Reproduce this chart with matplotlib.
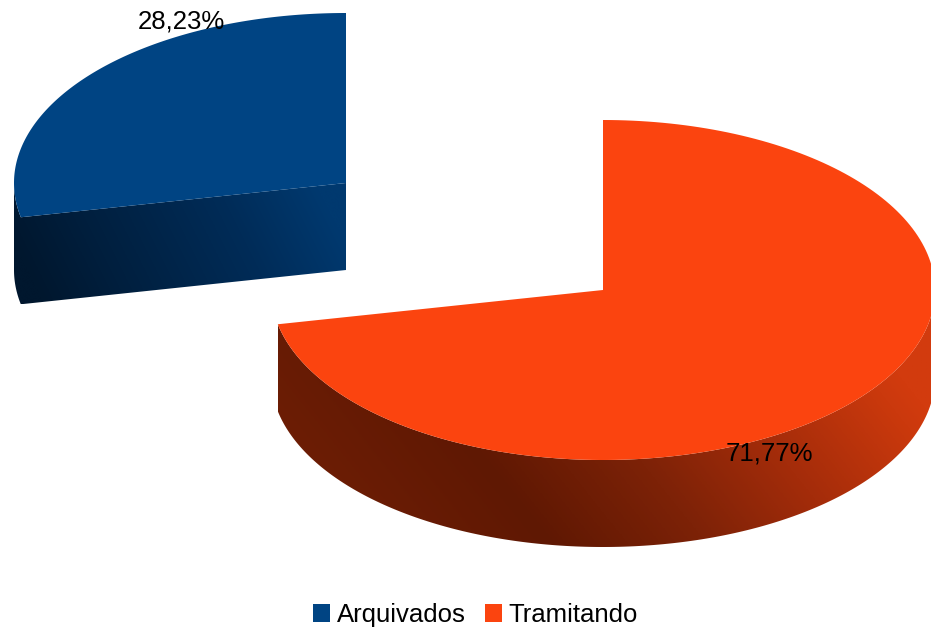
import numpy as np
import matplotlib
matplotlib.use('Agg')
import matplotlib.pyplot as plt
from matplotlib.colors import LinearSegmentedColormap
from matplotlib.patches import Patch, Polygon

plt.rcParams['font.family'] = ['Liberation Sans', 'DejaVu Sans']

categories = ['Arquivados', 'Tramitando']
values = [28.23, 71.77]
labels = ['28,23%', '71,77%']
colors = ['#004483', '#fb440f']

# layout of the two exploded slices, in pixels
centers = [(346, 183), (603, 290)]
rx, ry, depth = 332, 170, 87
label_pos = [(181, 22), (769, 453)]

# side shading, left to right, and how much it leans
side_colors = [
    [(0.0, '#00172e'), (0.25, '#001f3e'), (0.7, '#002c58'), (1.0, '#00396f')],
    [(0.0, '#6c1d05'), (0.26, '#5f1803'), (0.5, '#7d2207'), (0.72, '#a42c0a'), (0.95, '#cb390d'), (1.0, '#d23b0e')],
]
side_lean = [0.5, 0.8]


def arc(cx, cy, a0, a1):
    # angles clockwise from 12 o'clock, in degrees
    t = np.radians(np.linspace(a0, a1, 200))
    return np.column_stack([cx + rx * np.sin(t), cy - ry * np.cos(t)])


fig = plt.figure(figsize=(9.31, 6.31), dpi=100)
ax = fig.add_axes([0, 0, 1, 1])
ax.set_xlim(0, 931)
ax.set_ylim(631, 0)
ax.axis('off')

fracs = np.array(values) / sum(values)
# Tramitando starts at 12 o'clock going clockwise, Arquivados takes the rest
split = fracs[1] * 360
spans = [(split, 360), (0, split)]

for i in range(2):
    cx, cy = centers[i]
    a0, a1 = spans[i]
    down = np.array([0, depth])

    if i == 0:
        # cut face towards the viewer plus the short bit of rim
        rim = arc(cx, cy, a0, 270)
        top_edge = np.vstack([[cx, cy], rim])
    else:
        top_edge = arc(cx, cy, 90, a1)
    side = np.vstack([top_edge, (top_edge + down)[::-1]])

    xmin, xmax = side[:, 0].min(), side[:, 0].max()
    ymin, ymax = side[:, 1].min(), side[:, 1].max()
    xx, yy = np.meshgrid(np.linspace(xmin, xmax, 512), np.linspace(ymin, ymax, 256))
    shade = (xx - side_lean[i] * (yy - (ymin + ymax) / 2) - xmin) / (xmax - xmin)
    cmap = LinearSegmentedColormap.from_list('side%d' % i, side_colors[i])
    im = ax.imshow(np.clip(shade, 0, 1), cmap=cmap, vmin=0, vmax=1, aspect='auto', origin='upper',
                   extent=(xmin, xmax, ymax, ymin), zorder=2 + i * 2)
    im.set_clip_path(Polygon(side, transform=ax.transData))

    face = np.vstack([[cx, cy], arc(cx, cy, a0, a1)])
    ax.add_patch(Polygon(face, closed=True, facecolor=colors[i], edgecolor='none', zorder=3 + i * 2))

ax.set_xlim(0, 931)
ax.set_ylim(631, 0)

for (x, y), s in zip(label_pos, labels):
    ax.text(x, y, s, fontsize=18.5, ha='center', va='center', color='black', zorder=10)

handles = [Patch(facecolor=c, edgecolor='none') for c in colors]
fig.legend(handles, categories, ncol=2, loc='center', bbox_to_anchor=(475.5 / 931, 1 - 615 / 631),
           frameon=False, fontsize=18.5, handlelength=0.66, handleheight=0.66,
           handletextpad=0.27, columnspacing=0.74, borderpad=0, borderaxespad=0)

fig.savefig('out.png', dpi=100, facecolor='white')
